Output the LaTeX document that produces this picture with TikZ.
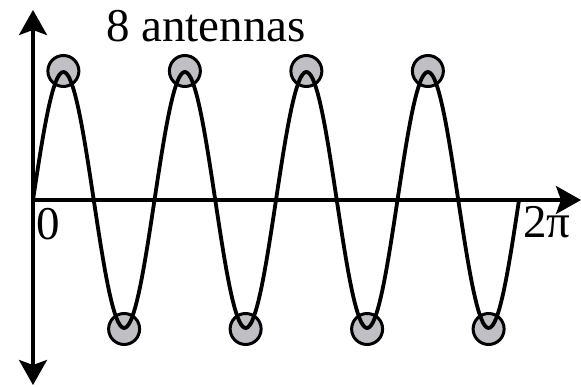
\documentclass[tikz,border=0pt]{standalone}
\usepackage{fontspec}
\setmainfont{Liberation Serif}
\usetikzlibrary{arrows.meta}
\definecolor{AntennaGray}{RGB}{192,192,196}
\tikzset{
  axisline/.style={line width=3.3pt,-{Stealth[length=25pt,width=28pt,inset=5pt]}},
  axisboth/.style={line width=3.3pt,{Stealth[length=25pt,width=28pt,inset=5pt]}-{Stealth[length=25pt,width=28pt,inset=5pt]}},
  wave/.style={line width=3.8pt,line join=round},
  antenna/.style={circle,draw,line width=3pt,fill=AntennaGray,minimum size=31pt,inner sep=0pt},
  biglabel/.style={font=\fontsize{47}{52}\selectfont,inner sep=0pt}
}
\begin{document}
\begin{tikzpicture}[x=1pt,y=1pt]
\useasboundingbox (-33,-187) rectangle (548,200);
\def\period{121.5}
% axes
\coordinate (o) at (0,0);
\coordinate (ytop) at (0,190);
\coordinate (ybot) at (0,-185);
\coordinate (xend) at (548,0);
\draw[axisboth] (ybot) -- (ytop);
\draw[axisline] (o) -- (xend);
% antennas at peaks and troughs
\foreach \k in {0,...,3}{
  \node[antenna] (peak\k) at ({\period/4+\k*\period},129) {};
  \node[antenna] (trough\k) at ({3*\period/4+\k*\period},-129) {};
}
% wave
\draw[wave] plot[domain=0:486,samples=300] (\x,{128*sin(\x/\period*360)});
% labels
\node[biglabel] (zero) at (15,-24) {0};
\node[biglabel] (twopi) at (514,-22) {2π};
\node[biglabel] (title) at (173,174) {8 antennas};
\end{tikzpicture}
\end{document}
